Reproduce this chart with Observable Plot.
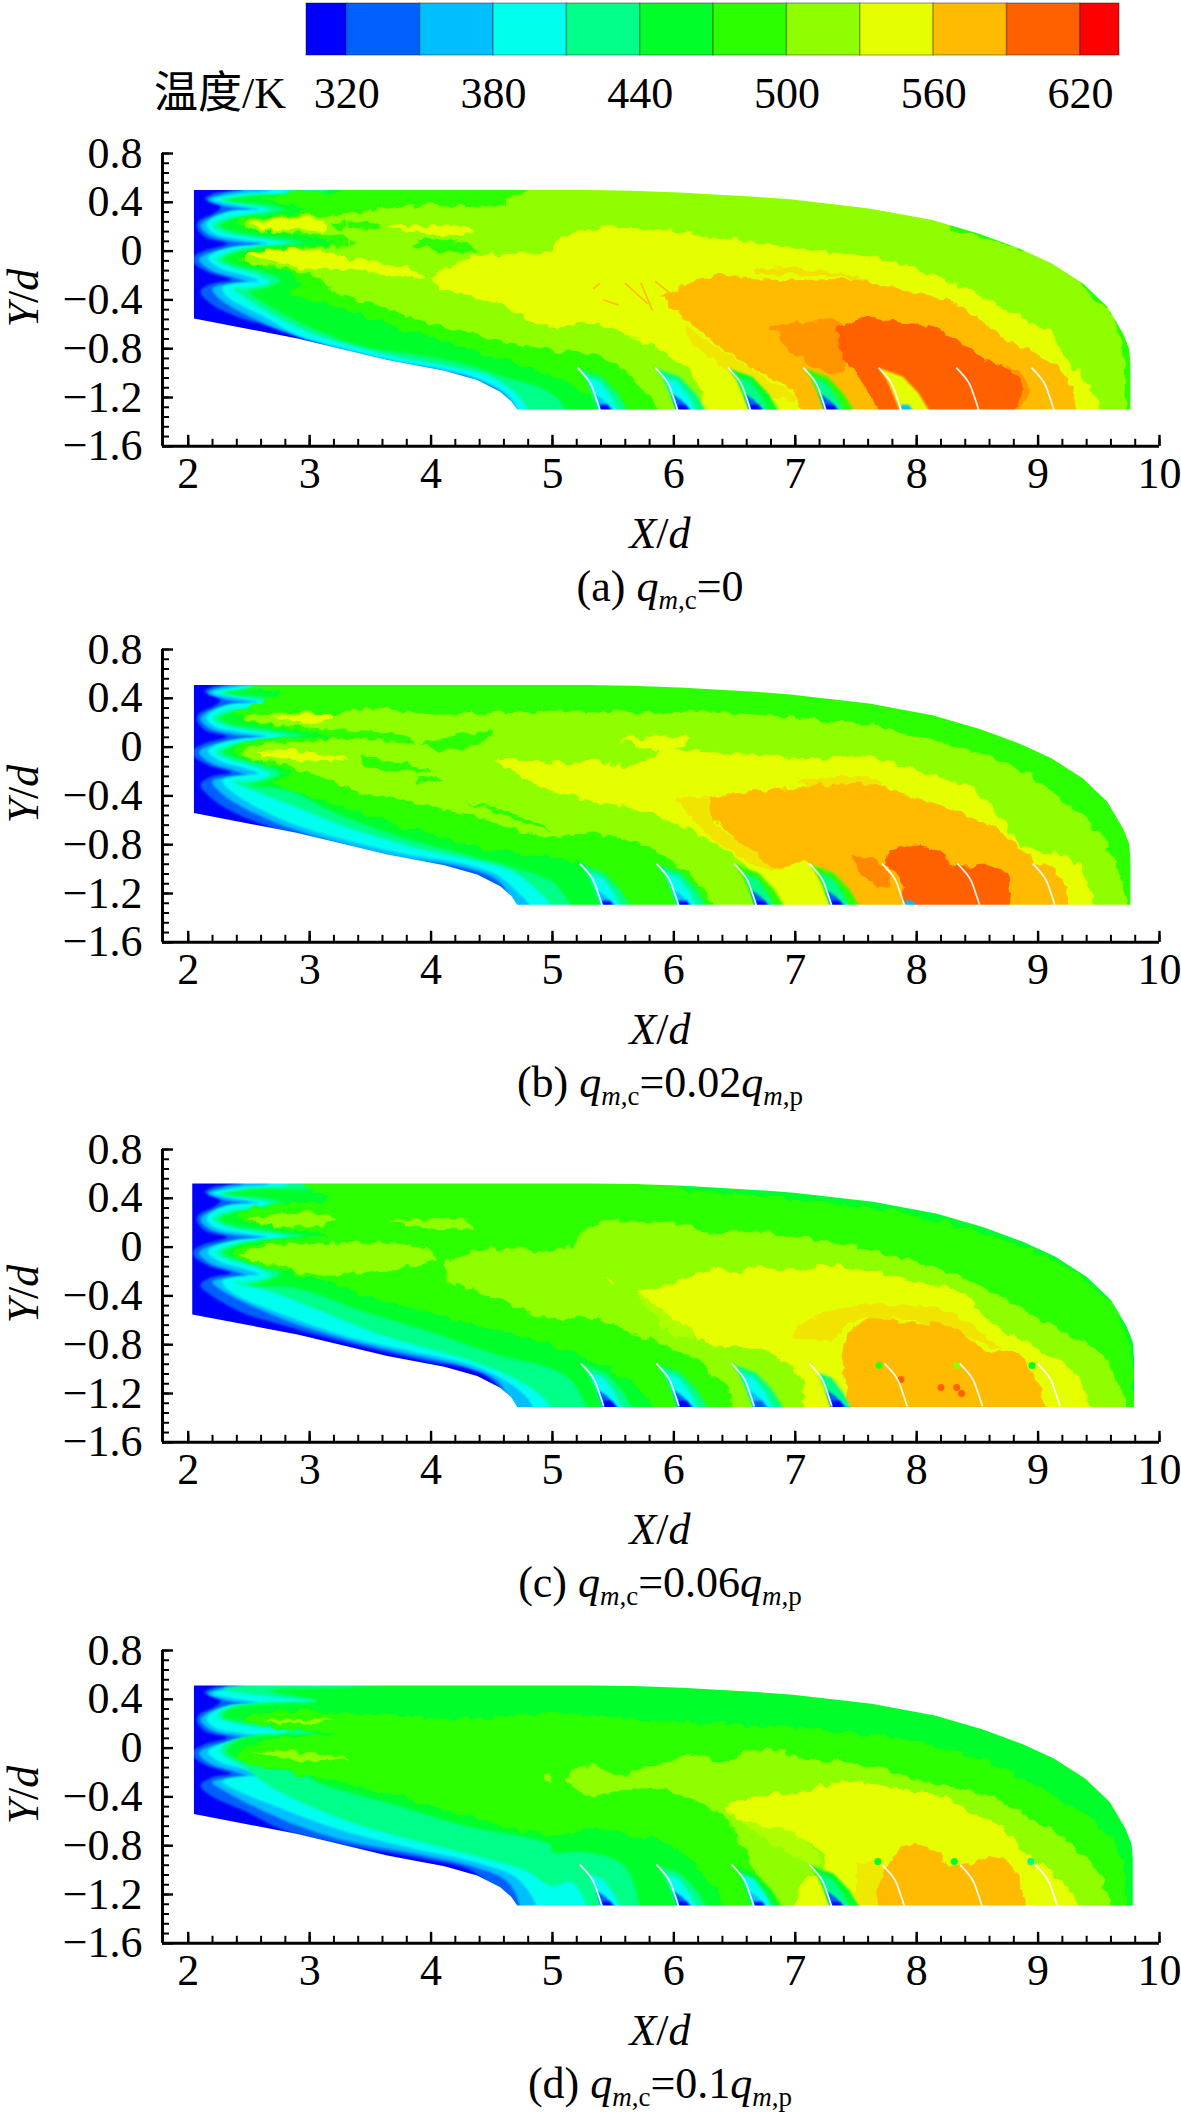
<!DOCTYPE html>
<html><head><meta charset="utf-8">
<style>
html,body{margin:0;padding:0;background:#fff;width:1181px;height:2112px;overflow:hidden}
#root{position:relative;width:1181px;height:2112px;font-family:"Liberation Serif",serif;color:#000}
#root svg{position:absolute;left:0;overflow:visible}
#root svg text{font-family:"Liberation Serif",serif !important;font-variant:normal !important}
.t{position:absolute;white-space:nowrap;font-size:44px;line-height:50px}
.t sub{font-size:27px;line-height:0;vertical-align:-0.28em}
</style>
<script src="https://cdn.jsdelivr.net/npm/d3@7"></script>
<script src="https://cdn.jsdelivr.net/npm/@observablehq/plot@0.6"></script>
</head><body>
<svg width="0" height="0" style="position:absolute"><defs>
<filter id="rough" x="0" y="0" width="1181" height="480" filterUnits="userSpaceOnUse" color-interpolation-filters="sRGB">
<feTurbulence type="fractalNoise" baseFrequency="0.085" numOctaves="2" seed="4" result="n"/>
<feDisplacementMap in="SourceGraphic" in2="n" scale="11" xChannelSelector="R" yChannelSelector="G"/>
<feGaussianBlur stdDeviation="0.45"/>
</filter>
<filter id="soft" x="0" y="0" width="1181" height="480" filterUnits="userSpaceOnUse" color-interpolation-filters="sRGB">
<feGaussianBlur stdDeviation="0.9"/>
</filter>
</defs></svg>
<div id="root"></div>
<script>
// ---- colour legend -------------------------------------------------------
const levelBreaks=[320,350,380,410,440,470,500,530,560,590,620];
const levelColors=["#0000ff","#0060ff","#00bfff","#00ffee","#00ff88","#00ff2a","#2cff00","#8fff00","#e6ff00","#ffbb00","#ff6000","#ff0000"];
const legendEdges=[303.5,320,350,380,410,440,470,500,530,560,590,620,636];
const legendTicks=[320,380,440,500,560,620];
// ---- axes ----------------------------------------------------------------
const xMajor=[2,3,4,5,6,7,8,9,10];
const xMinorStep=0.2, yMinorStep=0.08;
const yMajor=[-1.6,-1.2,-0.8,-0.4,0,0.4,0.8];
// ---- domain outline (X/d, Y/d) ------------------------------------------
const upperEdge=[[5,.5],[5.3,.5],[5.65,.495],[6.05,.481],[6.3,.467],[6.67,.445],[6.96,.424],[7.61,.35],[8.13,.254],[8.52,.14],[8.85,.02],[9.11,-.1],[9.37,-.265],[9.57,-.456],[9.70,-.675],[9.75,-.8],[9.76,-.927]];
const lowerEdge=[[2.047,-.552],[2.9,-.716],[3.64,-.893],[4.11,-.98],[4.38,-1.057],[4.57,-1.153],[4.66,-1.23],[4.71,-1.298]];
const panelTop=[.5,.508,.522,.514];
const panelBottom=[-1.298,-1.292,-1.311,-1.29];
const panelLeft=[2.047,2.047,2.033,2.047];
const panelRightShift=[0,0,.03,.02];
const panelLowerShift=[0,.012,0,.012];
const lobeShift=[0,.025,.02,.025];
// ---- shared cold fronts near the inlet ----------------------------------
const lobes335=[[2.404,.527],[2.21,.473],[2.135,.429],[2.266,.363],[2.21,.309],[2.088,.249],[2.07,.2],[2.143,.112],[2.32,.063],[2.13,.003],[2.047,-.046],[2.05,-.1],[2.157,-.169],[2.35,-.232],[2.184,-.27],[2.10,-.333]];
const lobes365=[[2.486,.527],[2.294,.473],[2.162,.423],[2.321,.363],[2.51,.336],[2.294,.309],[2.143,.254],[2.102,.205],[2.17,.131],[2.376,.077],[2.596,.057],[2.349,.022],[2.157,-.019],[2.088,-.068],[2.184,-.156],[2.376,-.216],[2.486,-.26],[2.321,-.27],[2.198,-.306]];
const lobes395=[[2.706,.527],[2.431,.473],[2.198,.423],[2.349,.385],[2.582,.342],[2.349,.331],[2.184,.26],[2.151,.213],[2.212,.145],[2.431,.096],[2.651,.063],[2.404,.041],[2.212,-.014],[2.162,-.06],[2.266,-.142],[2.459,-.197],[2.582,-.243],[2.404,-.26],[2.28,-.298]];
const lobes425=[[2.84,.514],[2.486,.459],[2.266,.418],[2.486,.377],[2.68,.342],[2.459,.295],[2.266,.254],[2.206,.208],[2.294,.158],[2.514,.112],[2.816,.068],[2.459,.022],[2.28,-.033],[2.234,-.068],[2.349,-.128],[2.541,-.183],[2.679,-.251],[2.486,-.306],[2.376,-.306]];
const lobes455=[[3.17,.514],[2.6,.459],[2.32,.418],[2.62,.385],[2.79,.342],[2.57,.295],[2.35,.26],[2.26,.208],[2.35,.167],[2.62,.123],[2.95,.068],[2.57,.03],[2.35,-.025],[2.29,-.068],[2.43,-.123],[2.62,-.169],[2.76,-.238],[2.62,-.306],[2.51,-.333]];
// ---- lower (cold wall) fronts, per panel --------------------------------
const lowerA={335:[[2.184,-.429],[2.40,-.538],[2.68,-.62],[3.1,-.75],[3.6,-.93]],
 365:[[2.253,-.388],[2.624,-.593],[2.953,-.716],[3.448,-.852],[3.997,-.962],[4.382,-1.057],[4.602,-1.18],[4.7,-1.33]],
 395:[[2.321,-.374],[2.624,-.538],[2.898,-.689],[3.228,-.784],[3.668,-.893],[4.135,-.975],[4.41,-1.057],[4.63,-1.18],[4.725,-1.33]],
 425:[[2.459,-.374],[2.679,-.511],[2.953,-.648],[3.283,-.757],[3.723,-.866],[4.162,-.948],[4.464,-1.016],[4.712,-1.18],[4.808,-1.33]],
 455:[[2.68,-.456],[3.06,-.648],[3.45,-.784],[3.89,-.852],[4.27,-.926],[4.55,-1.016],[4.99,-1.167],[5.12,-1.33]]};
const lowerB={335:[[2.184,-.413],[2.40,-.549],[2.68,-.658],[3.06,-.795],[3.72,-.932],[4.27,-1.12]],
 365:[[2.3,-.4],[2.68,-.604],[3.17,-.768],[3.72,-.904],[4.27,-.986],[4.55,-1.096],[4.68,-1.314]],
 395:[[2.35,-.358],[2.73,-.577],[3.17,-.727],[3.72,-.863],[4.27,-.959],[4.55,-1.055],[4.71,-1.19],[4.82,-1.314]],
 425:[[2.6,-.38],[2.9,-.495],[3.31,-.658],[3.86,-.822],[4.38,-.932],[4.66,-1.014],[4.85,-1.15],[4.99,-1.314]],
 455:[[2.84,-.358],[3.17,-.522],[3.72,-.727],[4.27,-.877],[4.68,-.986],[4.99,-1.096],[5.07,-1.178],[5.16,-1.33]]};
const lowerC={335:[[2.184,-.393],[2.46,-.544],[2.73,-.626],[3.17,-.749],[3.99,-.94],[4.4,-1.02],[4.7,-1.36]],
 365:[[2.27,-.352],[2.73,-.571],[3.17,-.721],[3.72,-.858],[4.27,-.981],[4.55,-1.104],[4.66,-1.33]],
 395:[[2.35,-.366],[2.79,-.557],[3.31,-.735],[3.86,-.858],[4.33,-.967],[4.55,-1.063],[4.74,-1.186],[4.85,-1.336]],
 425:[[2.68,-.366],[3.04,-.503],[3.59,-.721],[4.27,-.913],[4.63,-1.049],[4.9,-1.213],[4.99,-1.336]],
 455:[[2.9,-.339],[3.45,-.53],[3.99,-.694],[4.55,-.885],[4.99,-.995],[5.16,-1.1],[5.28,-1.33]]};
const lowerD={335:[[2.184,-.388],[2.486,-.525],[2.76,-.661],[3.23,-.784],[3.86,-.893],[4.35,-1.016],[4.6,-1.3]],
 365:[[2.29,-.347],[2.76,-.579],[3.23,-.743],[3.86,-.866],[4.35,-.975],[4.63,-1.098],[4.74,-1.33]],
 395:[[2.4,-.347],[2.84,-.525],[3.31,-.689],[3.86,-.825],[4.41,-.948],[4.71,-1.071],[4.88,-1.33]],
 425:[[2.7,-.33],[3.31,-.6],[3.72,-.72],[4.27,-.86],[4.77,-1.0],[4.99,-1.13],[5.16,-1.1],[5.29,-1.33]],
 455:[[3.06,-.279],[3.72,-.47],[4.27,-.634],[4.99,-.798],[5,-.852],[5.26,-.852],[5.59,-.962],[5.72,-1.33]]};
const lobes425D=[[3.31,.568],[2.62,.5],[2.29,.459],[2.62,.404],[3.45,.336],[2.62,.35],[2.29,.295],[2.24,.235],[2.43,.172],[2.82,.104],[2.43,.063],[2.28,-.005],[2.27,-.06],[2.46,-.183]];
const lobes455D=[[3.72,.568],[3.45,.486],[2.68,.445],[3.06,.363],[2.62,.336],[2.35,.295],[2.29,.235],[2.62,.172],[3.06,.098],[2.57,.077],[2.38,.022],[2.32,-.06],[2.51,-.142],[2.95,-.238]];
// ---- warm contour regions, per panel: [level, outline] in painting order -
const far=[[11,-1.7],[11,1.3]];
const warmA=[
 [485,[[3.31,1],[3.31,.527],[2.9,.473],[2.62,.423],[2.82,.385],[2.95,.336],[2.73,.295],[2.46,.268],[2.38,.213],[2.51,.178],[2.9,.131],[3.23,.063],[2.79,.041],[2.49,-.019],[2.4,-.068],[2.57,-.115],[2.82,-.183],[2.95,-.265],[2.84,-.333],[3.23,-.456],[3.72,-.62],[4.27,-.784],[4.68,-.921],[4.99,-1.03],[5.2,-1.112],[5.42,-1.33],[5.42,-1.7],...far]],
 [515,[[5,1],[4.82,.527],[4.63,.432],[4.13,.391],[3.5,.336],[3.15,.295],[2.68,.276],[2.47,.24],[2.5,.186],[2.84,.15],[3.31,.117],[3.39,.063],[2.98,.03],[2.62,.008],[2.46,-.033],[2.47,-.074],[2.71,-.128],[3.06,-.21],[3.17,-.32],[3.59,-.456],[4.13,-.634],[4.55,-.73],[4.99,-.81],[5.33,-.852],[5.65,-1.03],[5.88,-1.33],[5.88,-1.7],[9.71,-1.7],[9.71,-1.298],[9.7,-.784],[9.6,-.538],[9.40,-.32],[9.18,-.115],[8.91,-.005],[8.59,.104],[8.26,.2],[8.22,.5],[7,.6]]],
 [485,[[3.9,.41],[4.2,.43],[4.62,.415],[4.62,.38],[4.25,.37],[3.9,.385]]],
 [485,[[3.17,.225],[3.45,.24],[3.6,.2],[3.45,.17],[3.23,.175]]],
 [485,[[3.9,.1],[4.3,.06],[4.4,-.01],[4.1,0],[3.85,.04]]],
 [545,[[2.51,.228],[2.73,.27],[3.06,.257],[3.12,.23],[3.14,.172],[2.9,.172],[2.62,.167]]],
 [545,[[3.64,.2],[4.02,.213],[4.27,.213],[4.35,.172],[4.27,.118],[3.94,.145],[3.67,.172]]],
 [545,[[2.46,-.033],[2.68,.014],[3.06,.008],[3.3,-.05],[3.5,-.13],[3.06,-.15],[2.68,-.09]]],
 [545,[[3.4,-.08],[3.9,-.17],[3.95,-.22],[3.5,-.17]]],
 [545,[[4,-.22],[4.27,-.06],[4.55,-.025],[4.99,.008],[5.07,.117],[5.36,.186],[5.59,.2],[5.98,.158],[6.47,.104],[6.96,.022],[7.61,-.046],[7.94,-.128],[8.39,-.292],[8.65,-.429],[8.91,-.566],[9.11,-.675],[9.24,-.893],[9.47,-1.167],[9.48,-1.4],[6.3,-1.4],[6.21,-1.112],[5.98,-.866],[5.65,-.702],[5.33,-.593],[5,-.62],[4.55,-.429],[4.08,-.306]]],
 [575,[[5.88,-.374],[6.14,-.265],[6.34,-.197],[6.57,-.224],[6.96,-.238],[7.54,-.238],[7.94,-.333],[8.39,-.456],[8.59,-.62],[8.85,-.784],[9.08,-.893],[9.24,-1.057],[9.29,-1.4],[7.14,-1.4],[6.96,-1.139],[6.63,-.948],[6.37,-.784],[6.14,-.593],[5.95,-.429]]],
 [605,[[7.35,-.62],[7.61,-.538],[7.87,-.593],[8.13,-.62],[8.33,-.73],[8.52,-.866],[8.75,-.975],[8.87,-1.112],[8.72,-1.4],[7.77,-1.4],[7.58,-1.112],[7.41,-.893],[7.35,-.73]]],
];
const warmB=[
 [485,[[2.68,1],[2.68,.557],[2.49,.489],[2.76,.448],[2.57,.352],[2.4,.284],[2.46,.216],[2.82,.148],[3.17,.079],[2.62,.066],[2.4,.011],[2.38,-.057],[2.62,-.126],[2.82,-.221],[2.71,-.29],[2.95,-.385],[3.45,-.549],[4,-.713],[4.55,-.85],[5,-.904],[5.33,-.986],[5.49,-1.33],[5.49,-1.7],...far]],
 [515,[[2.44,.216],[2.49,.257],[2.84,.284],[3.23,.27],[3.45,.325],[3.99,.27],[4.27,.27],[4.99,.298],[5.65,.284],[6.14,.298],[6.63,.27],[7.28,.216],[7.77,.148],[8.26,.025],[8.75,-.139],[9.08,-.331],[9.37,-.577],[9.57,-.795],[9.67,-1.068],[9.67,-1.7],[6.34,-1.7],[6.34,-1.314],[6.14,-1.068],[5.8,-.822],[5.33,-.7],[4.99,-.74],[4.27,-.549],[3.72,-.426],[3.31,-.344],[3.06,-.235],[2.71,-.126],[2.43,-.057],[2.51,.011],[2.9,.046],[3.45,.066],[3.89,.025],[3.72,.107],[3.17,.148],[2.76,.175]]],
 [485,[[3.91,.011],[4.13,.074],[4.52,.134],[4.44,.052],[4.27,-.016],[3.99,-.016]]],
 [485,[[3.39,-.085],[3.72,-.126],[4,-.194],[3.72,-.194],[3.45,-.153]]],
 [485,[[3.89,-.235],[4.11,-.262],[3.89,-.303]]],
 [485,[[4.27,-.44],[4.77,-.577],[4.99,-.686],[4.55,-.549]]],
 [545,[[2.68,.257],[2.9,.257],[3.2,.27],[3.12,.202],[2.84,.202]]],
 [545,[[2.57,-.044],[2.76,-.016],[3.17,-.071],[3.34,-.085],[3.17,-.112],[2.62,-.09]]],
 [545,[[5.55,.066],[5.91,.079],[6.14,.066],[5.95,-.03],[5.72,0]]],
 [545,[[4.52,-.112],[4.77,-.098],[5.07,-.139],[5.33,-.112],[5.65,-.153],[5.91,-.03],[6.3,-.044],[6.63,-.057],[7.12,-.085],[7.61,-.085],[8.1,-.221],[8.46,-.331],[8.69,-.577],[8.88,-.822],[9.18,-.877],[9.37,-1.014],[9.42,-1.4],[6.89,-1.4],[6.57,-.959],[6.3,-.768],[5.82,-.549],[5.33,-.44],[5,-.358],[4.9,-.33],[4.68,-.194]]],
 [575,[[6.29,-.426],[6.5,-.372],[7.02,-.331],[7.54,-.303],[7.71,-.317],[7.87,-.385],[8.26,-.495],[8.69,-.686],[8.88,-.85],[9,-.959],[9.14,-1.014],[9.24,-1.4],[7.48,-1.4],[7.09,-.932],[6.86,-.986],[6.57,-.795],[6.34,-.604]]],
 [605,[[7.76,-.85],[8,-.809],[8.2,-.877],[8.36,-.986],[8.59,-.959],[8.75,-1.068],[8.7,-1.4],[7.98,-1.4],[7.84,-1.068],[7.74,-.959]]],
];
const warmC=[
 [485,[[2.9,1],[2.9,.536],[3.17,.399],[2.76,.358],[2.46,.29],[2.4,.235],[2.76,.153],[3.17,.093],[2.71,.057],[2.4,-.011],[2.36,-.066],[2.62,-.161],[3.06,-.27],[3.45,-.393],[4.27,-.612],[4.99,-.803],[5.33,-.937],[5.65,-1.101],[5.82,-1.347],[5.82,-1.7],[9.8,-1.7],[9.8,-1.311],[9.76,-.828],[9.67,-.555],[9.44,-.309],[9.08,-.09],[8.59,.101],[7.94,.265],[6.96,.402],[5.98,.484],[5.5,.6],[4,.7]]],
 [515,[[2.49,.235],[2.76,.276],[3.17,.262],[3.23,.235],[3.04,.167],[2.62,.175]]],
 [515,[[3.64,.202],[4.27,.23],[4.35,.153],[3.99,.153]]],
 [515,[[2.4,-.066],[2.62,.016],[3.06,.03],[3.45,.044],[3.86,.003],[4.05,-.093],[3.72,-.175],[3.06,-.23],[2.71,-.148]]],
 [515,[[4.11,-.12],[4.33,-.038],[4.68,-.011],[5,-.036],[5.16,.019],[5.33,.183],[5.98,.197],[6.3,.128],[6.7,.128],[7.28,.046],[7.77,-.063],[8.26,-.2],[8.59,-.363],[8.91,-.527],[9.24,-.719],[9.57,-.937],[9.65,-1.7],[6.47,-1.7],[6.47,-1.347],[6.44,-1.156],[6.24,-.964],[5.98,-.828],[5.65,-.705],[5.33,-.582],[5,-.582],[4.55,-.421],[4.13,-.284]]],
 [545,[[5.7,-.363],[5.91,-.336],[6.14,-.24],[6.34,-.172],[6.53,-.227],[6.7,-.158],[6.96,-.199],[7.22,-.145],[7.61,-.199],[7.87,-.254],[8.39,-.391],[8.56,-.582],[8.88,-.773],[9.18,-.937],[9.34,-1.074],[9.39,-1.4],[7.09,-1.4],[7.07,-1.074],[6.86,-.91],[6.57,-.828],[6.3,-.8],[6.08,-.637],[5.85,-.473]]],
 [575,[[7.41,-.746],[7.61,-.582],[7.94,-.623],[8.26,-.637],[8.59,-.855],[8.85,-.883],[8.98,-1.074],[9.05,-1.4],[7.5,-1.4],[7.41,-1.046],[7.38,-.883]]],
];
const warmD=[
 [485,[[4.99,.295],[4.27,.24],[3.45,.281],[2.62,.295],[2.46,.227],[2.76,.158],[3.23,.118],[2.62,.063],[2.43,-.019],[2.4,-.087],[2.76,-.183],[3.23,-.279],[3.72,-.388],[4.27,-.552],[4.99,-.716],[5.33,-.661],[5.65,-.716],[5.98,-.798],[6.44,-1.33],[6.44,-1.7],[9.71,-1.7],[9.71,-1.33],[9.7,-.934],[9.54,-.661],[9.18,-.415],[8.75,-.197],[8.26,-.005],[7.45,.131],[6.63,.186],[5.98,.213],[5.33,.268]]],
 [515,[[2.62,.24],[2.9,.227],[3.2,.24],[3.06,.199],[2.7,.199]]],
 [515,[[2.54,-.046],[2.73,-.019],[3.17,-.06],[3.34,-.087],[2.9,-.101]]],
 [515,[[4.93,-.197],[4.99,-.21],[4.99,-.292],[4.93,-.265]]],
 [515,[[5.1,-.279],[5.2,-.169],[5.33,-.142],[5.59,-.224],[5.82,-.142],[5.98,-.115],[6.14,-.046],[6.44,-.115],[6.63,-.005],[7.12,-.087],[7.61,-.142],[8.1,-.279],[8.59,-.388],[8.85,-.525],[9.21,-.743],[9.5,-1.016],[9.57,-1.4],[6.92,-1.4],[6.63,-.934],[6.4,-.552],[5.98,-.361],[5.65,-.333],[5.33,-.415]]],
 [545,[[6.4,-.484],[6.7,-.388],[7.02,-.361],[7.41,-.279],[7.71,-.306],[8,-.361],[8.26,-.415],[8.46,-.525],[8.72,-.661],[8.91,-.88],[9.14,-1.044],[9.36,-1.4],[7.04,-1.4],[7.06,-1.098],[7.25,-.962],[7.12,-.77],[6.83,-.661],[6.53,-.579]]],
 [575,[[7.81,-.88],[7.9,-.798],[8.1,-.825],[8.26,-.934],[8.39,-.962],[8.59,-.893],[8.75,-.934],[8.88,-1.208],[8.88,-1.4],[7.71,-1.4],[7.69,-1.071]]],
];
// ---- speckled (broken) zones: [level, share of the speckle, outline] ----
const hazeA=[
 [575,.45,[[6.66,-.15],[6.96,-.13],[7.28,-.17],[7.56,-.22],[7.7,-.33],[7.56,-.25],[7.28,-.2],[6.96,-.2],[6.7,-.19]]],
 [605,.4,[[6.8,-.61],[7.09,-.58],[7.38,-.6],[7.42,-.9],[7.38,-1.0],[7.12,-.93],[6.93,-.8]]],
 [605,.4,[[8.72,-.93],[8.9,-1.05],[8.92,-1.2],[8.8,-1.3],[8.7,-1.2]]],
 [575,.35,[[6.1,-.62],[6.4,-.82],[6.7,-1.0],[7.0,-1.2],[6.8,-1.2],[6.4,-.95],[6.1,-.7]]],
];
const hazeB=[
 [575,.4,[[6.0,-.42],[6.3,-.42],[6.34,-.62],[6.6,-.8],[6.9,-1.0],[6.7,-.98],[6.3,-.75]]],
 [575,.4,[[7,-.29],[7.4,-.24],[7.7,-.27],[7.7,-.33],[7.2,-.33]]],
 [605,.55,[[7.48,-.904],[7.64,-.904],[7.77,-1.068],[7.77,-1.15],[7.61,-1.096],[7.51,-1.014]]],
];
const hazeC=[
 [575,.4,[[6.96,-.72],[7.1,-.6],[7.4,-.5],[7.9,-.47],[8.3,-.55],[8.6,-.75],[8.7,-.85],[8.2,-.65],[7.5,-.6],[7.3,-.75],[7.1,-.75]]],
 [545,.35,[[5.7,-.4],[5.9,-.35],[6.2,-.7],[6.0,-.75]]],
];
const hazeD=[
 [545,.35,[[6.4,-.5],[6.6,-.5],[7.1,-.77],[7.2,-.95],[6.9,-.85]]],
 [575,.3,[[7.5,-.95],[7.7,-.95],[7.7,-1.33],[7.5,-1.33]]],
];
// ---- thin streaks and specks --------------------------------------------
const streaksA=[
 [575,[[5.34,-.306],[5.39,-.265]]],[575,[[5.6,-.265],[5.78,-.429]]],[575,[[5.73,-.265],[5.82,-.48]]],[575,[[5.85,-.25],[5.95,-.333]]],[575,[[5.42,-.4],[5.54,-.44]]],
 [515,[[3.3,.28],[3.33,.05]]],
];
const streaksB=[[515,[[6.3,-.96],[6.4,-.86]]]];
const streaksC=[[545,[[5.45,-.25],[5.5,-.3]]]];
const streaksD=[];
const specksC=[[7.87,-1.085,605],[8.2,-1.15,605],[8.33,-1.15,605],[8.37,-1.2,605],[7.69,-.97,485],[8.33,-.97,515],[8.95,-.97,455]];
const specksD=[[7.68,-.93,455],[8.31,-.93,455],[8.94,-.93,425]];
// ---- film-cooling slots: foot X/d per slot, and nested wake shapes ------
const slotFeet=[[5.39,6.03,6.63,7.25,7.87,8.51,9.13],[5.41,6.04,6.68,7.3,7.9,8.52,9.14],[5.42,6.04,6.66,7.3,7.92,8.54,9.18],[5.41,6.04,6.66,7.3,7.9,8.54,9.16]];
const wakeOuter=[[-.18,-.96],[.016,-1.03],[.147,-1.167],[.245,-1.33],[0,-1.33],[-.065,-1.167],[-.114,-1.057]];
const wakeMid=[[-.114,-1.03],[0,-1.07],[.098,-1.2],[.163,-1.33],[0,-1.33],[-.055,-1.167]];
const wakeInner=[[-.05,-1.167],[.03,-1.22],[.13,-1.33],[0,-1.33]];
const wakeCore=[[0,-1.26],[.065,-1.26],[.115,-1.33],[0,-1.33]];
const wakeSliver=[[-.18,-.96],[-.08,-1.08],[-.033,-1.2],[0,-1.3]];
const wakeLevels=[
 [[425,395,365,305],[425,395,335,305],[455,425,335,305],[485,425,335,305],[545,null,null,365],[null,null,null,null],[null,null,null,null]],
 [[425,395,365,305],[425,395,365,305],[485,425,335,305],[485,425,335,305],[null,null,null,365],[null,null,null,null],[null,null,null,null]],
 [[425,395,335,305],[425,395,335,305],[425,395,365,335],[null,425,335,305],[null,null,null,null],[null,null,null,null],[null,null,null,null]],
 [[425,395,335,305],[425,395,335,305],[455,395,365,305],[455,425,335,305],[null,null,null,null],[null,null,null,null],[null,null,null,null]],
];
// ---- panels --------------------------------------------------------------
const panelLower=[lowerA,lowerB,lowerC,lowerD];
const panelWarm=[warmA,warmB,warmC,warmD];
const panelHaze=[hazeA,hazeB,hazeC,hazeD];
const panelStreaks=[streaksA,streaksB,streaksC,streaksD];
const panelSpecks=[[],[],specksC,specksD];
const panelAxisY=[446,941.5,1442,1942.5];
const captions=[
 '(a) <i>q</i><sub><i>m</i>,c</sub>=0',
 '(b) <i>q</i><sub><i>m</i>,c</sub>=0.02<i>q</i><sub><i>m</i>,p</sub>',
 '(c) <i>q</i><sub><i>m</i>,c</sub>=0.06<i>q</i><sub><i>m</i>,p</sub>',
 '(d) <i>q</i><sub><i>m</i>,c</sub>=0.1<i>q</i><sub><i>m</i>,p</sub>'];

const root=document.getElementById("root");
const colorOpt={type:"threshold",domain:levelBreaks,range:levelColors};
const W=1181,FS=44,SERIF="Liberation Serif";
function addText(html,opts){const d=document.createElement("div");d.className="t";d.innerHTML=html;Object.assign(d.style,opts);root.appendChild(d);return d;}
function area(T,pts,curve,op,look){return Plot.line(pts,{x:d=>d[0],y:d=>d[1],fill:()=>T,fillOpacity:op==null?1:op,stroke:"none",curve:curve||"catmull-rom",clip:true,ariaDescription:look||"soft"});}
function closedFront(front){const a=front[0],z=front[front.length-1];return [[a[0],1.3],...front,[z[0],-1.7],...far];}

// legend
const legendCells=legendEdges.slice(0,-1).map((e,i)=>({x1:e,x2:legendEdges[i+1],v:(e+legendEdges[i+1])/2}));
const legend=Plot.plot({width:W,height:125,marginLeft:306,marginRight:62,marginTop:3,marginBottom:70,
 style:{fontFamily:SERIF,background:"transparent",color:"#000"},
 x:{domain:[303.5,636],label:null},color:colorOpt,
 marks:[
  Plot.rect(legendCells,{x1:"x1",x2:"x2",fill:"v",stroke:"#000",strokeOpacity:.28,strokeWidth:1.5}),
  Plot.axisX({ticks:legendTicks,tickSize:0,tickPadding:21,fontSize:FS,label:null,tickFormat:d=>String(d),fill:"#000"})
 ]});
legend.style.top="0px";root.appendChild(legend);
addText('<span style="font-family:\'Noto Sans CJK SC\'">温度</span>/K',{left:"154px",top:"64px",fontSize:"44px"});

panelAxisY.forEach((axisY,p)=>{
 const frameH=292.8,frameW=997,mt=26,mb=60;
 const dy=panelTop[p]-panelTop[0], ly=lobeShift[p], lows=panelLower[p], low=panelLowerShift[p];
 const sh=pts=>pts.map(d=>[d[0],d[1]+ly]);
 const marks=[area(305,[[1.7,-2],[11,-2],[11,1.3],[1.7,1.3]],"linear",1,"plain")];
 const fronts={335:lobes335,365:lobes365,395:lobes395,425:p==3?lobes425D:lobes425,455:p==3?lobes455D:lobes455};
 for(const T of [335,365,395,425,455]) marks.push(area(T,closedFront([...sh(fronts[T]),...lows[T]])));
 panelWarm[p].forEach(([T,pts])=>marks.push(area(T,pts,null,1,"rough")));
 panelHaze[p].forEach(([T,op,pts])=>marks.push(area(T,pts,"catmull-rom",op,"rough")));
 slotFeet[p].forEach((bx,i)=>{
  const lv=wakeLevels[p][i];
  [wakeOuter,wakeMid,wakeInner,wakeCore].forEach((s,k)=>{
   if(lv[k]!=null) marks.push(area(lv[k],s.map(d=>[bx+d[0],d[1]]),"linear"));
  });
 });
 panelStreaks[p].forEach(([T,pts])=>marks.push(Plot.line(pts,{x:d=>d[0],y:d=>d[1],stroke:()=>T,strokeWidth:1.6,clip:true})));
 if(panelSpecks[p].length) marks.push(Plot.dot(panelSpecks[p],{x:d=>d[0],y:d=>d[1],fill:d=>d[2],stroke:"none",r:3.5,clip:true}));
 slotFeet[p].forEach(bx=>marks.push(Plot.line(wakeSliver.map(d=>[bx+d[0],d[1]]),{x:d=>d[0],y:d=>d[1],stroke:"#fff",strokeWidth:1.8,strokeOpacity:.9,curve:"catmull-rom",clip:true})));
 // white outside of the domain
 const top=panelTop[p],bot=panelBottom[p],left=panelLeft[p],rs=panelRightShift[p];
 const up=upperEdge.map(d=>[d[0]+rs,d[1]+dy]);
 const rightX=up[up.length-1][0];
 const whiteTop=[[1.7,top],...up,[rightX,bot],[rightX,bot-.06],[11,bot-.06],[11,1.3],[1.7,1.3]];
 const lowPts=lowerEdge.map(d=>[d[0],d[1]+low]);
 const whiteLow=[[1.7,1.3],[left,1.3],[left,lowPts[0][1]],...lowPts.slice(1,-1),[lowPts[lowPts.length-1][0],bot],[11,bot],[11,-2],[1.7,-2]];
 marks.push(Plot.line(whiteTop,{x:d=>d[0],y:d=>d[1],fill:"#fff",stroke:"none",clip:true}));
 marks.push(Plot.line(whiteLow,{x:d=>d[0],y:d=>d[1],fill:"#fff",stroke:"none",clip:true}));
 // axes
 const xMinor=d3.range(2,10.001,xMinorStep), yMinor=d3.range(-1.6,.801,yMinorStep);
 marks.push(
  Plot.tickX(xMinor,{x:d=>d,stroke:"#000",strokeWidth:2,insetTop:frameH-7}),
  Plot.tickX(xMajor,{x:d=>d,stroke:"#000",strokeWidth:2.4,insetTop:frameH-11}),
  Plot.tickY(yMinor,{y:d=>d,stroke:"#000",strokeWidth:2,insetRight:frameW-7}),
  Plot.tickY(yMajor,{y:d=>d,stroke:"#000",strokeWidth:2.4,insetRight:frameW-11}),
  Plot.ruleX([1.788],{stroke:"#000",strokeWidth:3}),
  Plot.ruleY([-1.6],{stroke:"#000",strokeWidth:3}),
  Plot.axisX({ticks:xMajor,tickSize:0,tickPadding:10,fontSize:FS,label:null,tickFormat:d=>String(d),fill:"#000"}),
  Plot.axisY({ticks:yMajor,tickSize:0,tickPadding:20,fontSize:FS,label:null,fill:"#000",tickFormat:d=>d===0?"0":d.toFixed(1).replace("-","\u2212")})
 );
 const svg=Plot.plot({width:W,height:mt+frameH+mb,marginLeft:162,marginRight:22,marginTop:mt,marginBottom:mb,
  style:{fontFamily:SERIF,background:"transparent",color:"#000"},
  x:{domain:[1.788,10],label:null},y:{domain:[-1.6,.8],label:null},color:colorOpt,marks});
 svg.querySelectorAll('g[aria-description="rough"]').forEach(g=>g.setAttribute("filter","url(#rough)"));
 svg.querySelectorAll('g[aria-description="soft"]').forEach(g=>g.setAttribute("filter","url(#soft)"));
 svg.style.top=(axisY-frameH-mt)+"px";
 root.appendChild(svg);
 addText('<i>X</i>/<i>d</i>',{left:"660px",top:(axisY+103-40)+"px",transform:"translateX(-50%)"});
 addText(captions[p],{left:"660px",top:(axisY+156-40)+"px",transform:"translateX(-50%)"});
 addText('<i>Y</i>/<i>d</i>',{left:"24px",top:(axisY-148)+"px",transform:"translate(-50%,-50%) rotate(-90deg)"});
});
</script></body></html>
